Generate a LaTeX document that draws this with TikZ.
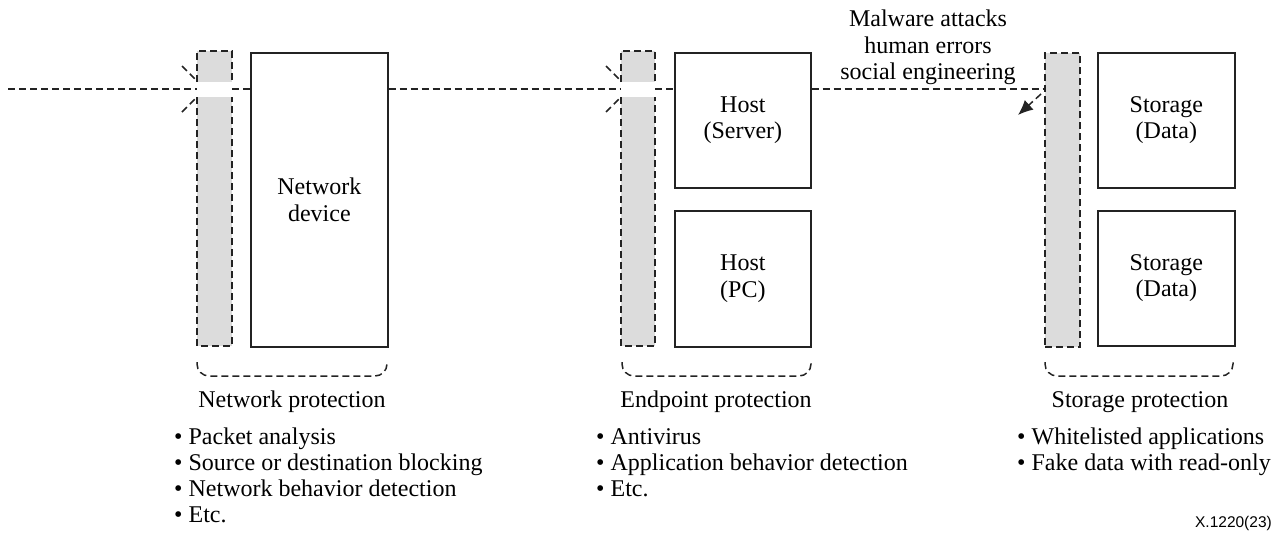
\documentclass[tikz,border=0pt]{standalone}
\usepackage{fontspec}
\setmainfont{Liberation Serif}
\newfontfamily\labelsans{Liberation Sans}
\usetikzlibrary{arrows.meta}
\definecolor{barfill}{RGB}{220,220,220}
\definecolor{ink}{RGB}{35,35,35}
\tikzset{
  txt/.style={font=\fontsize{24}{26.5}\selectfont, inner sep=0pt, text=black},
  devbox/.style={draw=ink, line width=1.7pt, fill=white},
  filterbar/.style={draw=ink, line width=1.6pt, dash pattern=on 7pt off 4pt, fill=barfill},
  flow/.style={draw=ink, line width=1.5pt, dash pattern=on 7pt off 4pt},
  burst/.style={draw=ink, line width=1.5pt, dash pattern=on 7pt off 4pt},
  groupline/.style={draw=ink, line width=1.5pt, dash pattern=on 7pt off 4pt, rounded corners=12pt},
}
\begin{document}
\begin{tikzpicture}[x=1pt,y=-1pt]
\useasboundingbox (0,0) rectangle (1279,533);

% ---------- network zone ----------
\fill[barfill] (197,51) rectangle (232,82);
\fill[barfill] (197,97) rectangle (232,346);
\draw[filterbar, fill=none] (197,82) -- (197,51) -- (232,51) -- (232,82);
\draw[filterbar, fill=none] (197,97) -- (197,346) -- (232,346) -- (232,97);
\coordinate (nbarL) at (197,89);
\coordinate (nbarR) at (232,89);
\node[devbox, minimum width=137pt, minimum height=294pt, anchor=north west] (netdev) at (250,52) {};
\node[txt, align=center] (netdevtxt) at (netdev.center) {Network\\device};

% ---------- endpoint zone ----------
\fill[barfill] (621,51) rectangle (655,82);
\fill[barfill] (621,97) rectangle (655,346);
\draw[filterbar, fill=none] (621,82) -- (621,51) -- (655,51) -- (655,82);
\draw[filterbar, fill=none] (621,97) -- (621,346) -- (655,346) -- (655,97);
\coordinate (ebarL) at (621,89);
\coordinate (ebarR) at (655,89);
\node[devbox, minimum width=136pt, minimum height=135pt, anchor=north west] (server) at (674,52) {};
\node[txt, align=center] (servertxt) at (server.center) {Host\\(Server)};
\node[devbox, minimum width=136pt, minimum height=136pt, anchor=north west] (pc) at (674,210) {};
\node[txt, align=center] (pctxt) at (pc.center) {Host\\(PC)};

% ---------- storage zone ----------
\node[filterbar, minimum width=35pt, minimum height=294pt, anchor=north west] (sbar) at (1044,52) {};
\coordinate (sbarL) at (1044,89);
\node[devbox, minimum width=137pt, minimum height=135pt, anchor=north west] (stor1) at (1097,52) {};
\node[txt, align=center] (stor1txt) at (stor1.center) {Storage\\(Data)};
\node[devbox, minimum width=137pt, minimum height=135pt, anchor=north west] (stor2) at (1097,210) {};
\node[txt, align=center] (stor2txt) at (stor2.center) {Storage\\(Data)};

% ---------- traffic path ----------
\coordinate (start) at (8,89);
\draw[flow] (start) -- (nbarL);
\draw[flow] (nbarR) -- (netdev.west |- nbarR);
\draw[flow] (netdev.east |- nbarR) -- (ebarL);
\draw[flow] (ebarR) -- (server.west |- ebarR);
\draw[flow] (server.east |- ebarR) -- (sbarL);

% blocked traffic marks at the filters
\draw[burst] (182,66) -- (196,80);
\draw[burst] (182,112) -- (196,98);
\draw[burst] (606,66) -- (620,80);
\draw[burst] (606,112) -- (620,98);

% threat entering storage
\coordinate (thrA) at (1041,94);
\coordinate (thrB) at (1018,115);
\draw[flow, -{Latex[length=15pt,width=13pt]}] (thrA) -- (thrB);
\node[txt, align=center] (threat) at (928,47.5) {Malware attacks\\human errors\\social engineering};

% ---------- zone groupings ----------
\draw[groupline] (197,362) -- (197,376) -- (387,376) -- (387,362);
\draw[groupline] (622,362) -- (622,376) -- (811,376) -- (811,362);
\draw[groupline] (1045,362) -- (1045,376) -- (1233,376) -- (1233,362);

\node[txt, anchor=base] (netprot) at (292,407) {Network protection};
\node[txt, anchor=base] (endprot) at (716,407) {Endpoint protection};
\node[txt, anchor=base] (storprot) at (1140,407) {Storage protection};

\node[txt, anchor=base west] (n1) at (174,444) {\textbullet\ Packet analysis};
\node[txt, anchor=base west] (n2) at (174,470) {\textbullet\ Source or destination blocking};
\node[txt, anchor=base west] (n3) at (174,496) {\textbullet\ Network behavior detection};
\node[txt, anchor=base west] (n4) at (174,522) {\textbullet\ Etc.};

\node[txt, anchor=base west] (e1) at (596,444) {\textbullet\ Antivirus};
\node[txt, anchor=base west] (e2) at (596,470) {\textbullet\ Application behavior detection};
\node[txt, anchor=base west] (e3) at (596,496) {\textbullet\ Etc.};

\node[txt, anchor=base west] (s1) at (1017,444) {\textbullet\ Whitelisted applications};
\node[txt, anchor=base west] (s2) at (1017,470) {\textbullet\ Fake data with read-only};

\node[inner sep=0pt, anchor=base east, font=\labelsans\fontsize{15.5}{18}\selectfont] (ref) at (1272,527) {X.1220(23)};
\end{tikzpicture}
\end{document}
